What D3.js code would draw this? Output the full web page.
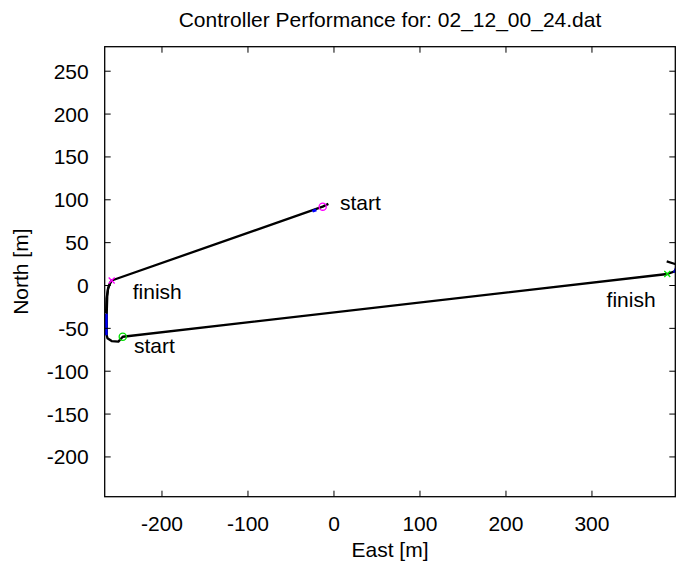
<!DOCTYPE html>
<html>
<head>
<meta charset="utf-8">
<script src="https://cdn.jsdelivr.net/npm/d3@7"></script>
<style>
  html, body { margin: 0; padding: 0; background: #fff; }
  svg text { font-family: "Liberation Sans", Arial, Helvetica, sans-serif; fill: #000; }
</style>
</head>
<body>
<svg id="chart" width="683" height="562"></svg>
<script>
// Vehicle track, east/north in metres
const trackEast  = [-6.5, -13.1, -258.5, -261.0, -262.8, -263.6, -264.2, -264.2, -263.4, -258.5, -250.7, -245.6, 387.6, 394.5, 400.5, 401.5, 395.7, 386.9];
const trackNorth = [95.2, 92.0, 5.8, 1.5, -4.0, -12.0, -31.0, -58.0, -61.5, -64.8, -65.5, -59.8, 13.4, 15.8, 19.5, 23.5, 25.4, 28.2];

// Second pass hugging the west edge
const driftEast  = [-259.5, -262.5, -264.5, -265.0];
const driftNorth = [4.5, -3.0, -15.0, -32.0];

// Reference path segments (blue)
const refSegments = [
  { east: [-264.8, -264.8], north: [-33.0, -58.0] },
  { east: [395.7, 398.5], north: [14.9, 21.6] },
  { east: [-25.0, -20.5], north: [86.6, 88.2] }
];

// Run start / finish markers
const runs = [
  { name: "run1", color: "#ff00ff", startE: -13.1, startN: 92.0, finishE: -258.5, finishN: 5.8 },
  { name: "run2", color: "#00e000", startE: -245.6, startN: -59.8, finishE: 387.6, finishN: 13.4 }
];

// Text annotations (left edge / baseline, in metres)
const labelText  = ["start", "finish", "start", "finish"];
const labelEast  = [7.0, -234.0, -232.6, 317.0];
const labelNorth = [88.1, -15.2, -79.1, -24.7];

const xTicks = [-200, -100, 0, 100, 200, 300];
const yTicks = [-200, -150, -100, -50, 0, 50, 100, 150, 200, 250];

const titleText = "Controller Performance for: 02_12_00_24.dat";
const xLabel = "East [m]";
const yLabel = "North [m]";

const svg = d3.select("#chart");
const plot = { left: 104.7, right: 675.3, top: 46.7, bottom: 496.7 };
const fontSize = 21;

const x = d3.scaleLinear().domain([-266.6, 396.9]).range([plot.left, plot.right]);
const y = d3.scaleLinear().domain([-246.4, 278.6]).range([plot.bottom, plot.top]);

svg.append("defs").append("clipPath").attr("id", "plotClip")
  .append("rect")
  .attr("x", plot.left).attr("y", plot.top)
  .attr("width", plot.right - plot.left).attr("height", plot.bottom - plot.top);

const g = svg.append("g").attr("clip-path", "url(#plotClip)");

const line = d3.line().x(d => x(d[0])).y(d => y(d[1]));

// track
[[trackEast, trackNorth], [driftEast, driftNorth]].forEach(([e, n]) => {
  g.append("path")
    .datum(d3.zip(e, n))
    .attr("d", line)
    .attr("fill", "none")
    .attr("stroke", "#000")
    .attr("stroke-width", 2.3)
    .attr("stroke-linejoin", "round");
});

// reference segments
refSegments.forEach(s => {
  g.append("path")
    .datum(d3.zip(s.east, s.north))
    .attr("d", line)
    .attr("fill", "none")
    .attr("stroke", "#0000ff")
    .attr("stroke-width", 2.8);
});

// markers
runs.forEach(r => {
  g.append("circle")
    .attr("cx", x(r.startE)).attr("cy", y(r.startN)).attr("r", 3.6)
    .attr("fill", "none").attr("stroke", r.color).attr("stroke-width", 1.3);
  const fx = x(r.finishE), fy = y(r.finishN), s = 3;
  g.append("path")
    .attr("d", `M${fx - s},${fy - s}L${fx + s},${fy + s}M${fx - s},${fy + s}L${fx + s},${fy - s}`)
    .attr("stroke", r.color).attr("stroke-width", 1.3).attr("fill", "none");
});

// annotations
labelText.forEach((t, i) => {
  svg.append("text")
    .attr("x", x(labelEast[i])).attr("y", y(labelNorth[i]))
    .attr("font-size", fontSize)
    .text(t);
});

// box
svg.append("rect")
  .attr("x", plot.left).attr("y", plot.top)
  .attr("width", plot.right - plot.left).attr("height", plot.bottom - plot.top)
  .attr("fill", "none").attr("stroke", "#000").attr("stroke-width", 1.3);

// ticks (inward on all sides)
const tl = 6;
const tickG = svg.append("g").attr("stroke", "#000").attr("stroke-width", 1);
xTicks.forEach(v => {
  const px = x(v);
  tickG.append("line").attr("x1", px).attr("x2", px).attr("y1", plot.bottom).attr("y2", plot.bottom - tl);
  tickG.append("line").attr("x1", px).attr("x2", px).attr("y1", plot.top).attr("y2", plot.top + tl);
  svg.append("text").attr("x", px).attr("y", plot.bottom + 34)
    .attr("text-anchor", "middle").attr("font-size", fontSize).text(v);
});
yTicks.forEach(v => {
  const py = y(v);
  tickG.append("line").attr("x1", plot.left).attr("x2", plot.left + tl).attr("y1", py).attr("y2", py);
  tickG.append("line").attr("x1", plot.right).attr("x2", plot.right - tl).attr("y1", py).attr("y2", py);
  svg.append("text").attr("x", plot.left - 16).attr("y", py + 7.5)
    .attr("text-anchor", "end").attr("font-size", fontSize).text(v);
});

// titles
svg.append("text").attr("x", (plot.left + plot.right) / 2).attr("y", 26.5)
  .attr("text-anchor", "middle").attr("font-size", fontSize).text(titleText);
svg.append("text").attr("x", (plot.left + plot.right) / 2).attr("y", 556.5)
  .attr("text-anchor", "middle").attr("font-size", fontSize).text(xLabel);
svg.append("text")
  .attr("transform", `translate(28.3,${(plot.top + plot.bottom) / 2}) rotate(-90)`)
  .attr("text-anchor", "middle").attr("font-size", fontSize).text(yLabel);
</script>
</body>
</html>
